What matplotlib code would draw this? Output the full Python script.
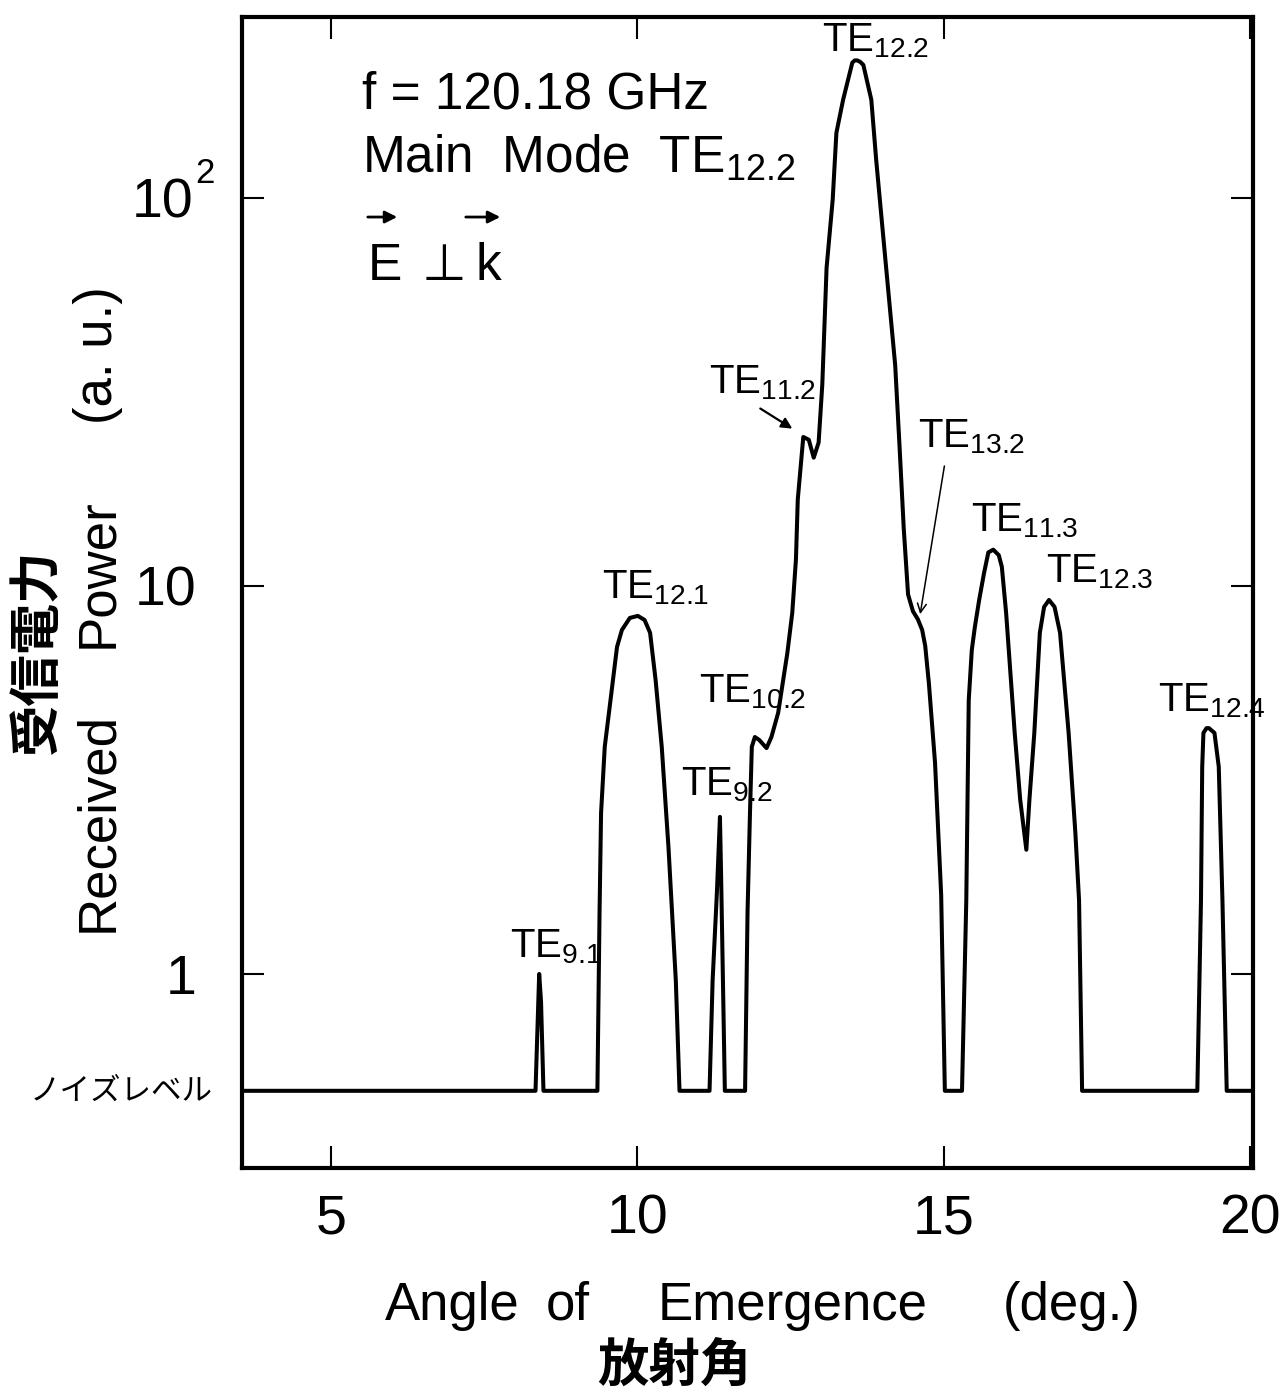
import matplotlib
matplotlib.use('Agg')
import matplotlib.pyplot as plt

# 受信電力 vs 放射角, f = 120.18 GHz, main mode TE12.2

plt.rcParams['font.family'] = ['Liberation Sans Narrow', 'Liberation Sans', 'DejaVu Sans']
JP = ['Noto Sans CJK JP', 'DejaVu Sans']

angle = [3.55, 8.34, 8.40, 8.43, 8.47, 9.35, 9.385, 9.41, 9.47, 9.57, 9.67, 9.75, 9.88,
         10.01, 10.12, 10.21, 10.30, 10.40, 10.51, 10.63, 10.69, 11.18, 11.23, 11.30,
         11.35, 11.37, 11.43, 11.76, 11.80, 11.84, 11.87, 11.92, 11.99, 12.11, 12.19,
         12.30, 12.45, 12.53, 12.59, 12.62, 12.71, 12.80, 12.88, 12.96, 13.02, 13.09,
         13.19, 13.25, 13.36, 13.51, 13.55, 13.59, 13.64, 13.69, 13.82, 13.90, 14.01,
         14.21, 14.28, 14.35, 14.42, 14.50, 14.58, 14.65, 14.70, 14.76, 14.86, 14.96,
         15.02, 15.30, 15.37, 15.39, 15.41, 15.46, 15.51, 15.58, 15.66, 15.73, 15.81,
         15.90, 15.95, 16.02, 16.16, 16.25, 16.35, 16.40, 16.48, 16.57, 16.64, 16.72,
         16.81, 16.90, 17.04, 17.15, 17.21, 17.26, 19.14, 19.20, 19.22, 19.24, 19.29,
         19.33, 19.42, 19.49, 19.55, 19.62, 20.05]
power = [0.5, 0.5, 1.0, 0.85, 0.5, 0.5, 1.44, 2.60, 3.85, 5.17, 6.96, 7.70, 8.27,
         8.37, 8.17, 7.57, 5.72, 3.85, 2.12, 0.96, 0.5, 0.5, 0.96, 1.62,
         2.54, 1.75, 0.5, 0.5, 1.44, 2.60, 3.85, 4.08, 4.01, 3.82, 4.08,
         4.71, 6.72, 8.52, 11.7, 16.7, 24.2, 23.8, 21.4, 23.4, 33.0, 66.0,
         99.0, 147, 179, 223, 226, 226, 224, 220, 179, 125, 81.0,
         37.0, 23.0, 14.0, 9.5, 8.6, 8.2, 7.7, 7.0, 5.6, 3.5, 1.6,
         0.5, 0.5, 1.55, 2.81, 5.08, 6.84, 7.84, 9.2, 10.8, 12.2, 12.4,
         12.0, 11.2, 8.52, 4.18, 2.81, 2.09, 2.81, 4.18, 7.57, 8.83, 9.2,
         8.83, 7.57, 4.18, 2.31, 1.55, 0.5, 0.5, 1.55, 3.42, 4.18, 4.30,
         4.30, 4.18, 3.42, 1.55, 0.5, 0.5]

xtick_vals = [5, 10, 15, 20]
ytick_vals = [1, 10, 100]
noise_level = 0.5

# mode labels: (text, angle, power) at left/baseline of "TE"
modes = ['12.2', '11.2', '13.2', '11.3', '12.3', '12.1', '10.2', '9.2', '9.1', '12.4']
mode_x = [13.02, 11.17, 14.59, 15.45, 16.67, 9.43, 11.01, 10.71, 7.93, 18.50]
mode_y = [238, 31.4, 22.7, 13.8, 10.2, 9.31, 5.02, 2.89, 1.106, 4.74]

# axis title words and their centres (axes fraction)
xlab_words = ['Angle', 'of', 'Emergence', '(deg.)']
xlab_pos = [0.2077, 0.3225, 0.545, 0.821]
ylab_words = ['Received', 'Power', '(a. u.)']
ylab_pos = [0.3006, 0.5169, 0.7063]

fig = plt.figure(figsize=(12.81, 13.92), dpi=100)
ax = fig.add_axes([0.1889, 0.1609, 0.7893, 0.8269])

ax.plot(angle, power, color='black', lw=2.9, solid_joinstyle='round', solid_capstyle='round')

ax.set_yscale('log')
ax.set_xlim(3.55, 20.05)
ax.set_ylim(10 ** -0.5, 10 ** 2.466)
ax.minorticks_off()
ax.set_xticks(xtick_vals)
ax.set_xticklabels([str(v) for v in xtick_vals])
ax.set_yticks(ytick_vals)
ax.tick_params(direction='in', length=16, width=1.5, top=True, right=True,
               labelleft=False, labelsize=40, pad=18)
for sp in ax.spines.values():
    sp.set_linewidth(3)

# y tick labels
ax.annotate('1', xy=(0, 1), xycoords=('axes fraction', 'data'), xytext=(-33, 0),
            textcoords='offset points', ha='right', va='center_baseline', fontsize=40)
ax.annotate('10', xy=(0, 10), xycoords=('axes fraction', 'data'), xytext=(-33, 0),
            textcoords='offset points', ha='right', va='center_baseline', fontsize=40)
ax.annotate('10', xy=(0, 100), xycoords=('axes fraction', 'data'), xytext=(-35, 0),
            textcoords='offset points', ha='right', va='center_baseline', fontsize=40)
ax.annotate('2', xy=(0, 100), xycoords=('axes fraction', 'data'), xytext=(-34, 11),
            textcoords='offset points', ha='left', va='baseline', fontsize=25)
ax.annotate('ノイズレベル', xy=(0, noise_level), xycoords=('axes fraction', 'data'),
            xytext=(-21, 0), textcoords='offset points', ha='right', va='center',
            fontsize=22, family=JP)

# axis titles
for w, p in zip(ylab_words, ylab_pos):
    ax.text(-0.1424, p, w, transform=ax.transAxes, rotation=90,
            ha='center', va='center', fontsize=38)
ax.text(-0.2028, 0.449, '受信電力', transform=ax.transAxes, rotation=90,
        ha='center', va='center', fontsize=37, family=JP, weight='bold')
for w, p in zip(xlab_words, xlab_pos):
    ax.text(p, -0.132, w, transform=ax.transAxes, ha='center', va='baseline', fontsize=38)
ax.text(0.428, -0.171, '放射角', transform=ax.transAxes, ha='center', va='center',
        fontsize=37, family=JP, weight='bold')

# condition text
ax.text(0.1187, 0.9209, 'f = 120.18 GHz', transform=ax.transAxes, fontsize=37, va='baseline')
ax.text(0.1187, 0.8645, 'Main  Mode  TE$_{\\mathregular{12.2}}$', transform=ax.transAxes,
        fontsize=37, va='baseline')
ax.text(0.1246, 0.7715, 'E', transform=ax.transAxes, fontsize=37, va='baseline')
ax.text(0.178, 0.7715, '⊥', transform=ax.transAxes, fontsize=37, va='baseline')
ax.text(0.2305, 0.7715, 'k', transform=ax.transAxes, fontsize=37, va='baseline')
for x0, x1 in [(0.1217, 0.1563), (0.2186, 0.2582)]:
    ax.annotate('', xy=(x1, 0.8262), xytext=(x0, 0.8262), xycoords='axes fraction',
                arrowprops=dict(arrowstyle='-|>', lw=2, color='black', mutation_scale=18))

# mode labels
for m, mx, my in zip(modes, mode_x, mode_y):
    ax.text(mx, my, 'TE$_{\\mathregular{' + m + '}}$', fontsize=29, va='baseline')

ax.annotate('', xy=(12.57, 25.2), xytext=(11.97, 28.9),
            arrowprops=dict(arrowstyle='-|>', lw=1.6, color='black', mutation_scale=16))
ax.annotate('', xy=(14.61, 8.32), xytext=(15.02, 20.7),
            arrowprops=dict(arrowstyle='->', lw=1.1, color='black', mutation_scale=16))

plt.savefig('out.png', dpi=100)
